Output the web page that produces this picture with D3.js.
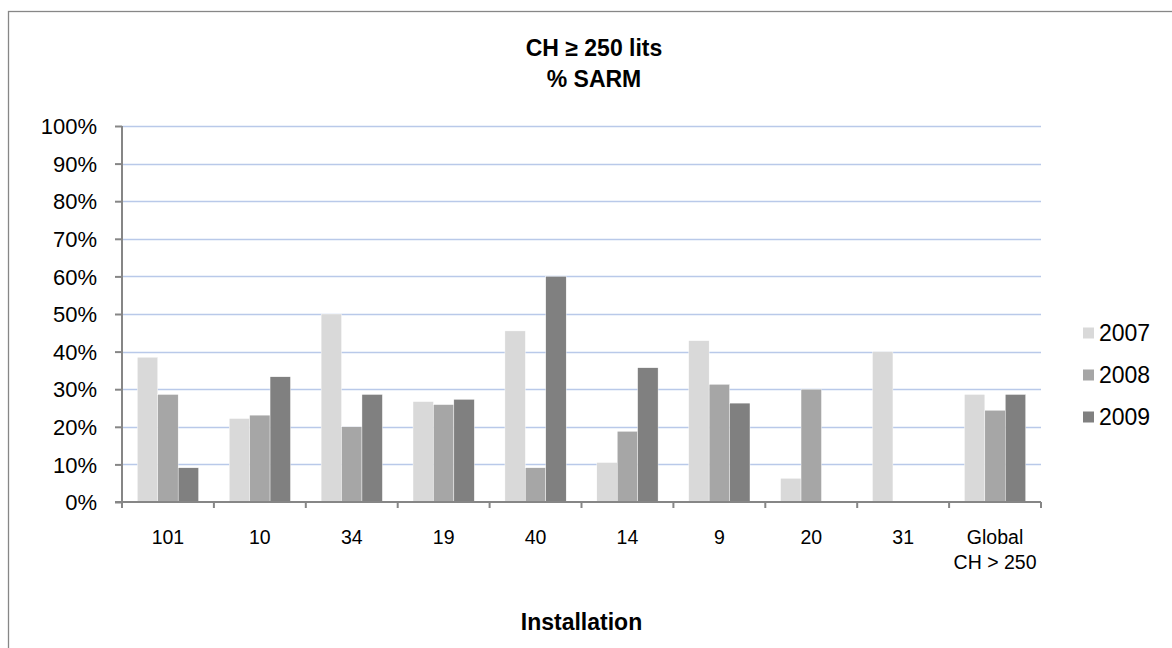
<!DOCTYPE html>
<html>
<head>
<meta charset="utf-8">
<script src="https://cdn.jsdelivr.net/npm/d3@7"></script>
<style>
  html, body { margin: 0; padding: 0; background: #fff; }
  svg { display: block; font-family: "Liberation Sans", Arial, sans-serif; }
</style>
</head>
<body>
<svg id="chart" width="1172" height="648"></svg>
<script>
const categories = ["101", "10", "34", "19", "40", "14", "9", "20", "31", "Global\nCH > 250"];
const seriesNames = ["2007", "2008", "2009"];
const values2007 = [38.5, 22.2, 50.0, 26.7, 45.5, 10.5, 42.9, 6.3, 40.0, 28.6];
const values2008 = [28.6, 23.1, 20.0, 25.9, 9.1, 18.8, 31.3, 30.0, null, 24.4];
const values2009 = [9.1, 33.3, 28.6, 27.3, 60.0, 35.7, 26.3, null, null, 28.6];
const yTicks = [0, 10, 20, 30, 40, 50, 60, 70, 80, 90, 100];
const titleLines = ["CH \u2265 250 lits", "% SARM"];
const xTitle = "Installation";

const colors = ["#d9d9d9", "#a6a6a6", "#808080"];
const series = [values2007, values2008, values2009];

const svg = d3.select("#chart");
const plot = { left: 122, right: 1041, top: 126, bottom: 502 };

// outer frame
svg.append("rect")
  .attr("x", 8.5).attr("y", 11.5)
  .attr("width", 1200).attr("height", 700)
  .attr("fill", "none").attr("stroke", "#878787").attr("stroke-width", 1.3);

const x = d3.scaleBand().domain(categories).range([plot.left, plot.right]).padding(0);
const y = d3.scaleLinear().domain([0, 100]).range([plot.bottom, plot.top]);
const bw = x.bandwidth() / 4.5;
const xs = d3.scaleBand().domain(seriesNames).range([0.75 * bw, 3.75 * bw]).padding(0);

// gridlines
svg.append("g").selectAll("line").data(yTicks.filter(t => t > 0)).join("line")
  .attr("x1", plot.left).attr("x2", plot.right)
  .attr("y1", d => Math.round(y(d)) + 0.5).attr("y2", d => Math.round(y(d)) + 0.5)
  .attr("stroke", "#b9c9e9").attr("stroke-width", 1.3);

// bars
const g = svg.append("g");
series.forEach((vals, si) => {
  g.append("g").selectAll("rect")
    .data(categories.map((c, i) => ({ c, v: vals[i] })).filter(d => d.v != null))
    .join("rect")
    .attr("x", d => x(d.c) + xs(seriesNames[si]))
    .attr("width", xs.bandwidth())
    .attr("y", d => y(d.v))
    .attr("height", d => plot.bottom - y(d.v))
    .attr("fill", colors[si])
    .attr("stroke", "#ffffff").attr("stroke-width", 0.4);
});

// y axis
const yAxis = svg.append("g")
  .attr("transform", `translate(${plot.left},0)`)
  .call(d3.axisLeft(y).tickValues(yTicks).tickFormat(d => d + "%").tickSize(7).tickPadding(18));
yAxis.select(".domain").attr("stroke", "#868686").attr("stroke-width", 2).attr("d", `M0,${plot.top}V${plot.bottom}`);
yAxis.selectAll(".tick line").attr("stroke", "#868686").attr("stroke-width", 2);
yAxis.selectAll(".tick text").attr("font-size", 22).attr("fill", "#000")
  .attr("font-family", "'Liberation Sans', Arial, sans-serif").attr("dy", "0.35em");

// x axis
const xAxis = svg.append("g")
  .attr("transform", `translate(0,${plot.bottom})`);
xAxis.append("line")
  .attr("x1", plot.left - 7).attr("x2", plot.right)
  .attr("y1", 0).attr("y2", 0)
  .attr("stroke", "#868686").attr("stroke-width", 2);
const bounds = categories.map(c => x(c)).concat([plot.right]);
xAxis.selectAll("line.tk").data(bounds).join("line").attr("class", "tk")
  .attr("x1", d => d).attr("x2", d => d).attr("y1", 0).attr("y2", 6)
  .attr("stroke", "#868686").attr("stroke-width", 2);
const xl = xAxis.selectAll("text.xl").data(categories).join("text").attr("class", "xl")
  .attr("text-anchor", "middle").attr("font-size", 19.5).attr("fill", "#000")
  .attr("transform", d => `translate(${x(d) + x.bandwidth() / 2},42)`);
xl.selectAll("tspan").data(d => d.split("\n")).join("tspan")
  .attr("x", 0).attr("dy", (d, i) => i === 0 ? 0 : 25).text(d => d);

// title
const tt = svg.append("text").attr("text-anchor", "middle").attr("font-weight", "bold")
  .attr("font-size", 23).attr("fill", "#000");
tt.selectAll("tspan").data(titleLines).join("tspan")
  .attr("x", 594).attr("y", (d, i) => 56 + i * 31).text(d => d);

// x title
svg.append("text").attr("x", (plot.left + plot.right) / 2).attr("y", 630)
  .attr("text-anchor", "middle").attr("font-weight", "bold").attr("font-size", 23)
  .attr("fill", "#000").text(xTitle);

// legend
const lg = svg.append("g");
seriesNames.forEach((s, i) => {
  const cy = 333 + i * 42;
  lg.append("rect").attr("x", 1083).attr("y", cy - 5.5).attr("width", 11).attr("height", 11).attr("fill", colors[i]);
  lg.append("text").attr("x", 1099).attr("y", cy).attr("dy", "0.35em")
    .attr("font-size", 23).attr("fill", "#000").text(s);
});
</script>
</body>
</html>
